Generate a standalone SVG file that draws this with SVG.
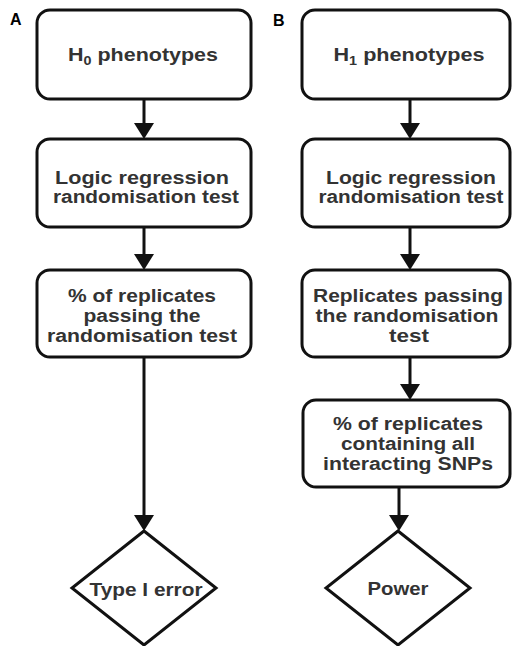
<svg xmlns="http://www.w3.org/2000/svg" width="512" height="646" viewBox="0 0 512 646">
<style>
  .box { fill: #fff; stroke: #111; stroke-width: 3; }
  .t { font-family: "Liberation Sans", Arial, sans-serif; font-weight: bold; font-size: 18px; fill: #333; text-anchor: middle; }
  .lbl { font-family: "Liberation Sans", Arial, sans-serif; font-weight: bold; font-size: 16px; fill: #000; }
  .edge { stroke: #111; stroke-width: 3; fill: none; marker-end: url(#arr); }
</style>
<defs>
  <marker id="arr" markerUnits="userSpaceOnUse" markerWidth="16" markerHeight="20" viewBox="0 0 16 20" refX="6" refY="10" orient="auto">
    <path d="M0,0 L16,10 L0,20 z" fill="#111"/>
  </marker>
</defs>
<rect width="512" height="646" fill="#fff"/>
<text class="lbl" x="10" y="25">A</text>
<text class="lbl" x="273" y="26">B</text>

<g id="connectors">
  <line class="edge" x1="144" y1="99" x2="144" y2="129"/>
  <line class="edge" x1="144" y1="228" x2="144" y2="260"/>
  <line class="edge" x1="144" y1="357" x2="144" y2="521"/>
  <line class="edge" x1="410" y1="99" x2="410" y2="129"/>
  <line class="edge" x1="410" y1="228" x2="410" y2="260"/>
  <line class="edge" x1="410" y1="357" x2="410" y2="390"/>
  <line class="edge" x1="399" y1="487" x2="399" y2="521"/>
</g>

<g id="a1">
  <rect class="box" x="37" y="10" width="214" height="89" rx="13"/>
  <text class="t" x="143" y="61" textLength="150" lengthAdjust="spacingAndGlyphs">H<tspan font-size="12" dy="4">0</tspan><tspan dy="-4"> phenotypes</tspan></text>
</g>
<g id="a2">
  <rect class="box" x="37" y="139" width="214" height="88" rx="13"/>
  <text class="t" x="142" y="184" textLength="174" lengthAdjust="spacingAndGlyphs">Logic regression</text>
  <text class="t" x="146" y="203" textLength="186" lengthAdjust="spacingAndGlyphs">randomisation test</text>
</g>
<g id="a3">
  <rect class="box" x="37" y="270" width="214" height="87" rx="13"/>
  <text class="t" x="142" y="302" textLength="148" lengthAdjust="spacingAndGlyphs">% of replicates</text>
  <text class="t" x="142" y="322" textLength="117" lengthAdjust="spacingAndGlyphs">passing the</text>
  <text class="t" x="142" y="342" textLength="190" lengthAdjust="spacingAndGlyphs">randomisation test</text>
</g>
<g id="a4">
  <polygon class="box" points="144,531 216,588 144,645 72,588"/>
  <text class="t" x="146" y="596" textLength="113" lengthAdjust="spacingAndGlyphs">Type I error</text>
</g>

<g id="b1">
  <rect class="box" x="302" y="10" width="208" height="89" rx="13"/>
  <text class="t" x="409" y="61" textLength="151" lengthAdjust="spacingAndGlyphs">H<tspan font-size="12" dy="4">1</tspan><tspan dy="-4"> phenotypes</tspan></text>
</g>
<g id="b2">
  <rect class="box" x="302" y="139" width="208" height="88" rx="13"/>
  <text class="t" x="411" y="184" textLength="170" lengthAdjust="spacingAndGlyphs">Logic regression</text>
  <text class="t" x="411" y="203" textLength="185" lengthAdjust="spacingAndGlyphs">randomisation test</text>
</g>
<g id="b3">
  <rect class="box" x="302" y="270" width="208" height="87" rx="13"/>
  <text class="t" x="408" y="302" textLength="190" lengthAdjust="spacingAndGlyphs">Replicates passing</text>
  <text class="t" x="407" y="322" textLength="183" lengthAdjust="spacingAndGlyphs">the randomisation</text>
  <text class="t" x="409" y="342" textLength="40" lengthAdjust="spacingAndGlyphs">test</text>
</g>
<g id="b4">
  <rect class="box" x="303" y="400" width="207" height="87" rx="13"/>
  <text class="t" x="408" y="430" textLength="150" lengthAdjust="spacingAndGlyphs">% of replicates</text>
  <text class="t" x="408" y="450" textLength="134" lengthAdjust="spacingAndGlyphs">containing all</text>
  <text class="t" x="408" y="470" textLength="170" lengthAdjust="spacingAndGlyphs">interacting SNPs</text>
</g>
<g id="b5">
  <polygon class="box" points="398,531 470,588 398,645 326,588"/>
  <text class="t" x="398" y="595" textLength="61" lengthAdjust="spacingAndGlyphs">Power</text>
</g>
</svg>
